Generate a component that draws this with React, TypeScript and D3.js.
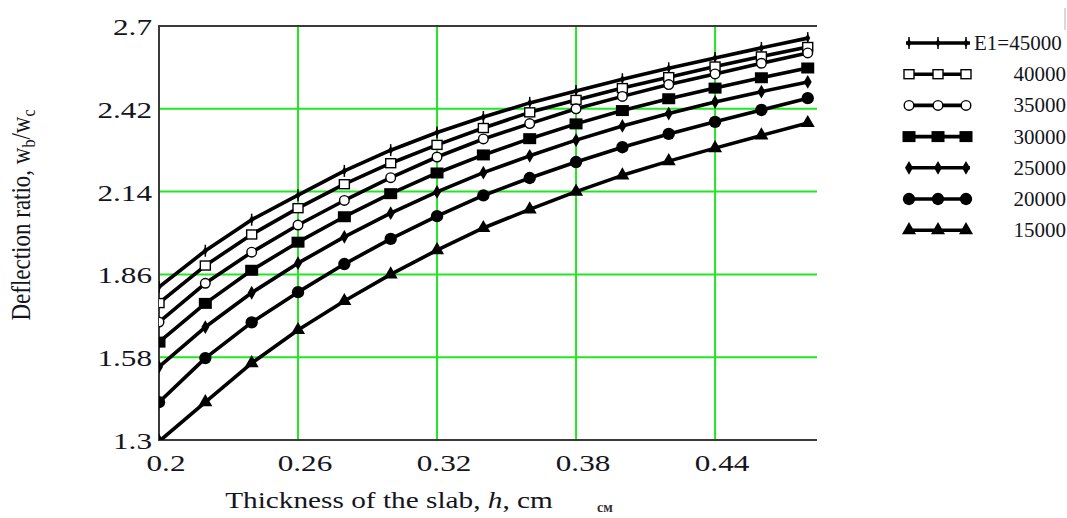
import React, { useEffect, useRef } from 'react';
import * as d3 from 'd3';

// slab thickness h, cm (one point every 0.02)
const thickness = [0.2, 0.22, 0.24, 0.26, 0.28, 0.3, 0.32, 0.34, 0.36, 0.38, 0.4, 0.42, 0.44, 0.46, 0.48];

// deflection ratio wb/wc for each E1
const ratioE45000 = [1.817, 1.94, 2.045, 2.128, 2.21, 2.28, 2.34, 2.392, 2.44, 2.48, 2.52, 2.557, 2.592, 2.626, 2.659];
const ratioE40000 = [1.763, 1.89, 1.995, 2.084, 2.165, 2.236, 2.298, 2.355, 2.408, 2.45, 2.49, 2.527, 2.563, 2.597, 2.629];
const ratioE35000 = [1.699, 1.83, 1.935, 2.027, 2.11, 2.187, 2.257, 2.318, 2.37, 2.42, 2.462, 2.502, 2.538, 2.574, 2.609];
const ratioE30000 = [1.631, 1.762, 1.874, 1.969, 2.055, 2.133, 2.203, 2.264, 2.319, 2.369, 2.414, 2.454, 2.49, 2.525, 2.558];
const ratioE25000 = [1.547, 1.682, 1.798, 1.898, 1.987, 2.067, 2.139, 2.204, 2.261, 2.314, 2.362, 2.404, 2.443, 2.478, 2.511];
const ratioE20000 = [1.428, 1.577, 1.698, 1.8, 1.895, 1.98, 2.057, 2.127, 2.186, 2.24, 2.29, 2.335, 2.376, 2.416, 2.456];
const ratioE15000 = [1.295, 1.428, 1.56, 1.672, 1.77, 1.86, 1.942, 2.017, 2.08, 2.14, 2.195, 2.243, 2.287, 2.33, 2.372];

const legendLabels = ['E1=45000', '40000', '35000', '30000', '25000', '20000', '15000'];
const markerKinds = ['tick', 'openSquare', 'openCircle', 'square', 'diamond', 'circle', 'triangle'];

const xTicks = [0.2, 0.26, 0.32, 0.38, 0.44];
const yTicks = [1.3, 1.58, 1.86, 2.14, 2.42, 2.7];

const series = [ratioE45000, ratioE40000, ratioE35000, ratioE30000, ratioE25000, ratioE20000, ratioE15000];

const W = 1067;
const H = 518;
const FONT = '"Liberation Serif", "DejaVu Serif", serif';
const GRID = '#22e622';

const App: React.FC = () => {
  const svgRef = useRef<SVGSVGElement>(null);

  useEffect(() => {
    if (!svgRef.current) return;
    const svg = d3.select(svgRef.current);
    svg.selectAll('*').remove();

    const left = 159, right = 817, top = 26, bottom = 440;
    const x = d3.scaleLinear().domain([0.2, 0.484]).range([left, right]);
    const y = d3.scaleLinear().domain([1.3, 2.7]).range([bottom, top]);

    svg.append('rect').attr('width', W).attr('height', H).attr('fill', '#fff');

    svg.append('defs').append('clipPath').attr('id', 'plot-clip')
      .append('rect')
      .attr('x', left).attr('y', top - 12)
      .attr('width', right - left + 12).attr('height', bottom - top + 12);

    // green grid
    const grid = svg.append('g').attr('stroke', GRID).attr('stroke-width', 2);
    xTicks.slice(1).forEach(t => {
      grid.append('line').attr('x1', x(t)).attr('x2', x(t)).attr('y1', top).attr('y2', bottom);
    });
    yTicks.slice(1, -1).forEach(t => {
      grid.append('line').attr('x1', left).attr('x2', right).attr('y1', y(t)).attr('y2', y(t));
    });

    // frame (no right edge)
    svg.append('path')
      .attr('d', `M${right},${top}H${left}V${bottom}H${right}`)
      .attr('fill', 'none').attr('stroke', '#3a3a3a').attr('stroke-width', 2);

    const drawMarker = (g: d3.Selection<SVGGElement, unknown, null, undefined>, kind: string, cx: number, cy: number) => {
      const m = g.append('g').attr('transform', `translate(${cx},${cy})`);
      if (kind === 'tick') {
        m.append('path').attr('d', d3.symbol(d3.symbolDiamond, 22)()).attr('fill', '#000');
        m.append('line').attr('y1', -6).attr('y2', 6).attr('stroke', '#000').attr('stroke-width', 1.5);
      } else if (kind === 'openSquare') {
        m.append('rect').attr('x', -5).attr('y', -4.5).attr('width', 10).attr('height', 9)
          .attr('fill', '#fff').attr('stroke', '#000').attr('stroke-width', 1.4);
      } else if (kind === 'openCircle') {
        m.append('circle').attr('r', 4.8).attr('fill', '#fff').attr('stroke', '#000').attr('stroke-width', 1.4);
      } else if (kind === 'square') {
        m.append('rect').attr('x', -6.5).attr('y', -5.5).attr('width', 13).attr('height', 11).attr('fill', '#000');
      } else if (kind === 'diamond') {
        m.append('path').attr('d', d3.symbol(d3.symbolDiamond, 55)()).attr('fill', '#000');
      } else if (kind === 'circle') {
        m.append('path').attr('d', d3.symbol(d3.symbolCircle, 120)()).attr('fill', '#000');
      } else {
        m.append('path').attr('d', d3.symbol(d3.symbolTriangle, 85)()).attr('fill', '#000');
      }
    };

    const plot = svg.append('g').attr('clip-path', 'url(#plot-clip)');
    const line = d3.line<number>()
      .x((_, i) => x(thickness[i]))
      .y(d => y(d));

    series.forEach(vals => {
      plot.append('path')
        .attr('d', line(vals))
        .attr('fill', 'none')
        .attr('stroke', '#000')
        .attr('stroke-width', 3.6)
        .attr('stroke-linejoin', 'round');
    });
    series.forEach((vals, si) => {
      const mg = plot.append('g');
      vals.forEach((v, i) => drawMarker(mg, markerKinds[si], x(thickness[i]), y(v)));
    });

    // tick labels, horizontally stretched like the source
    yTicks.forEach(t => {
      svg.append('text')
        .attr('transform', `translate(152,${y(t) + 9}) scale(1.3,1)`)
        .attr('text-anchor', 'end')
        .attr('font-family', FONT).attr('font-size', 24).attr('fill', '#141420')
        .text(String(t));
    });
    xTicks.forEach(t => {
      svg.append('text')
        .attr('transform', `translate(${x(t) + 7},471) scale(1.3,1)`)
        .attr('text-anchor', 'middle')
        .attr('font-family', FONT).attr('font-size', 24).attr('fill', '#141420')
        .text(String(t));
    });

    // axis titles
    const xt = svg.append('text')
      .attr('transform', 'translate(389,508) scale(1.22,1)')
      .attr('text-anchor', 'middle')
      .attr('font-family', FONT).attr('font-size', 24).attr('fill', '#141420');
    xt.append('tspan').text('Thickness of the slab, ');
    xt.append('tspan').attr('font-style', 'italic').text('h');
    xt.append('tspan').text(', cm');

    svg.append('text')
      .attr('x', 597).attr('y', 512)
      .attr('font-family', FONT).attr('font-size', 14).attr('font-weight', 'bold').attr('fill', '#333')
      .text('см');

    const yt = svg.append('text')
      .attr('transform', 'translate(30,215) scale(1.2,1) rotate(-90)')
      .attr('text-anchor', 'middle')
      .attr('font-family', FONT).attr('font-size', 23).attr('fill', '#141420');
    yt.append('tspan').text('Deflection ratio, w');
    yt.append('tspan').attr('font-size', 16).attr('dy', 4).text('b');
    yt.append('tspan').attr('dy', -4).text('/w');
    yt.append('tspan').attr('font-size', 16).attr('dy', 4).text('c');

    // legend
    const lg = svg.append('g');
    legendLabels.forEach((lab, i) => {
      const ly = 43 + i * 31.2;
      lg.append('line').attr('x1', 906).attr('x2', 970).attr('y1', ly).attr('y2', ly)
        .attr('stroke', '#000').attr('stroke-width', 3.6);
      [909, 938, 966].forEach(mx => drawMarker(lg, markerKinds[i], mx, ly));
      if (i === 0) {
        lg.append('text').attr('x', 974).attr('y', ly + 7)
          .attr('font-family', FONT).attr('font-size', 21).attr('fill', '#141420').text(lab);
      } else {
        lg.append('text').attr('x', 1066).attr('y', ly + 7).attr('text-anchor', 'end')
          .attr('font-family', FONT).attr('font-size', 21).attr('fill', '#141420').text(lab);
      }
    });
    svg.append('line').attr('x1', 1065).attr('x2', 1065).attr('y1', 8).attr('y2', 30)
      .attr('stroke', '#ccc').attr('stroke-width', 1.5);
  }, []);

  return (
    <svg
      ref={svgRef}
      width={W}
      height={H}
      viewBox={`0 0 ${W} ${H}`}
      style={{ position: 'absolute', left: 0, top: 0 }}
    />
  );
};

export default App;
